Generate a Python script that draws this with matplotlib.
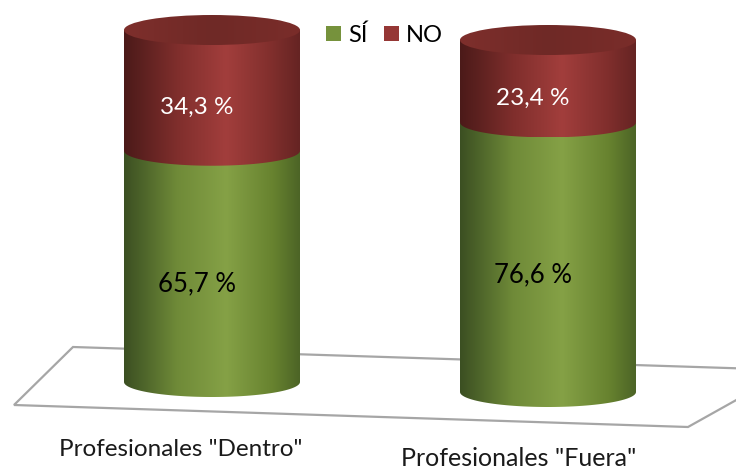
import numpy as np
import matplotlib
matplotlib.use('Agg')
import matplotlib.pyplot as plt
from matplotlib.colors import LinearSegmentedColormap
from matplotlib.patches import Ellipse, PathPatch, Patch, Polygon
from matplotlib.path import Path

plt.rcParams['font.family'] = ['Lato', 'DejaVu Sans']

categories = ['Profesionales "Dentro"', 'Profesionales "Fuera"']
si = [65.7, 76.6]
no = [34.3, 23.4]
si_labels = ['65,7 %', '76,6 %']
no_labels = ['34,3 %', '23,4 %']

# the two cylinders do not share a floor line, second one sits lower
px_per_pct = 3.52
base_px = [382, 392]
centers = [212, 548]
half_w = 88
rim = 15

green = LinearSegmentedColormap.from_list('g', [(0, '#3b4f22'), (0.3, '#6f8a38'), (0.58, '#85a146'), (0.85, '#67822f'), (1, '#4c6426')])
red = LinearSegmentedColormap.from_list('r', [(0, '#4b1a19'), (0.3, '#7f2e2c'), (0.58, '#a23e3c'), (0.85, '#7f2e2c'), (1, '#652423')])
top_cm = LinearSegmentedColormap.from_list('t', [(0, '#7e2f2c'), (0.5, '#6f2926'), (1, '#7a2d2a')])

fig = plt.figure(figsize=(7.36, 4.68), dpi=100)

# floor, in pixels
bg = fig.add_axes([0, 0, 1, 1])
bg.set_xlim(0, 736)
bg.set_ylim(468, 0)
bg.axis('off')
floor = Polygon([(73, 347), (790, 370), (688, 427), (14, 405)], closed=True, fc='white', ec='#a6a6a6', lw=1.6)
bg.add_patch(floor)

# cylinders, y in percent
ax = fig.add_axes([0, 0, 1, 1])
ax.patch.set_alpha(0)
ax.axis('off')
ax.set_xlim(0, 736)
y_top = 382 / px_per_pct
y_bot = -(468 - 382) / px_per_pct
ax.set_ylim(y_bot, y_top)
b = rim / px_per_pct


def body(cx, y0, y1, cmap):
    t = np.linspace(np.pi, 2 * np.pi, 60)
    xs = cx + half_w * np.cos(t)
    ys = y0 + b * np.sin(t)
    verts = list(zip(xs, ys)) + [(cx + half_w, y1), (cx - half_w, y1), (cx - half_w, y0)]
    codes = [Path.MOVETO] + [Path.LINETO] * (len(verts) - 2) + [Path.CLOSEPOLY]
    patch = PathPatch(Path(verts, codes), fc='none', ec='none')
    ax.add_patch(patch)
    grad = np.linspace(0, 1, 256).reshape(1, -1)
    im = ax.imshow(grad, cmap=cmap, aspect='auto', extent=(cx - half_w, cx + half_w, y0 - b, y1), zorder=2)
    im.set_clip_path(patch)


for i in range(2):
    cx = centers[i]
    off = (base_px[0] - base_px[i]) / px_per_pct
    top_y = off + si[i] + no[i]
    body(cx, off, off + si[i], green)
    body(cx, off + si[i], top_y, red)
    lid = Ellipse((cx, top_y), 2 * half_w, 2 * b, fc='none', ec='none')
    ax.add_patch(lid)
    grad = np.linspace(0, 1, 256).reshape(1, -1)
    im = ax.imshow(grad, cmap=top_cm, aspect='auto', extent=(cx - half_w, cx + half_w, top_y - b, top_y + b), zorder=3)
    im.set_clip_path(lid)
    ax.text(cx - 15, off + si[i] * 0.5 - 4.9, si_labels[i], color='black', fontsize=18.5, ha='center', va='center', zorder=5)
    ax.text(cx - 15, off + si[i] + no[i] * 0.5 - 4.9, no_labels[i], color='white', fontsize=17.5, ha='center', va='center', zorder=5)

ax.set_xlim(0, 736)
ax.set_ylim(y_bot, y_top)

# category labels
bg.text(181, 449, categories[0], fontsize=17.5, ha='center', va='center', color='#1a1a1a')
bg.text(518.5, 459, categories[1], fontsize=18, ha='center', va='center', color='#1a1a1a')

handles = [Patch(fc='#76923c', label='SÍ'), Patch(fc='#953735', label='NO')]
leg = ax.legend(handles=handles, ncol=2, loc='center', bbox_to_anchor=(384.5 / 736, 1 - 35 / 468), frameon=False,
                fontsize=17, handlelength=0.64, handleheight=0.64, handletextpad=0.3, columnspacing=0.7, borderpad=0)
leg.set_zorder(6)

fig.savefig('out.png', dpi=100)
